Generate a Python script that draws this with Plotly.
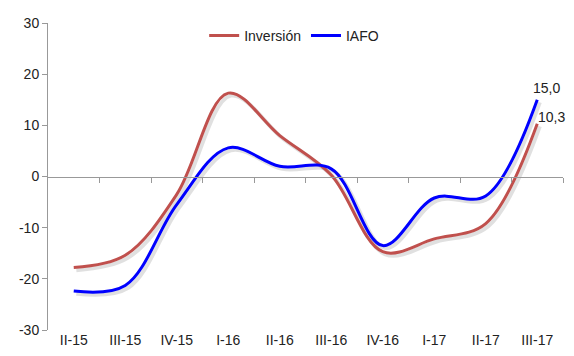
import plotly.graph_objects as go

categories = ["II-15", "III-15", "IV-15", "I-16", "II-16", "III-16", "IV-16", "I-17", "II-17", "III-17"]
inversion = [-17.8, -15.4, -3.5, 16.3, 8.0, 0.3, -14.7, -12.2, -9.2, 10.3]
iafo = [-22.4, -21.3, -5.5, 5.6, 2.0, 1.5, -13.5, -4.2, -3.8, 15.0]
y_ticks = [-30, -20, -10, 0, 10, 20, 30]
y_ticktext = ["-30", "-20", "-10", "0", "10", "20", "30"]

xs = list(range(len(categories)))
font = dict(family="Liberation Sans, Arial, sans-serif", size=14, color="#222222")
xr = [-0.5, len(categories) - 0.5]
yr = [-30, 30]
dx, dy = 0.05, 0.5

fig = go.Figure()
for xa in ("x", "x2"):
    fig.add_trace(go.Scatter(x=[xr[0]], y=[0], mode="markers", marker=dict(opacity=0), xaxis=xa, yaxis="y",
                             showlegend=False, hoverinfo="skip"))
for vals in (inversion, iafo):
    fig.add_trace(go.Scatter(x=xs, y=vals, mode="lines", line=dict(color="rgba(0,0,0,0.12)", width=4, shape="spline", smoothing=1),
                             xaxis="x3", yaxis="y3", showlegend=False, hoverinfo="skip"))
fig.add_trace(go.Scatter(x=xs, y=inversion, mode="lines", name="Inversión",
                         line=dict(color="#C0504D", width=3, shape="spline", smoothing=1), xaxis="x4", yaxis="y4"))
fig.add_trace(go.Scatter(x=xs, y=iafo, mode="lines", name="IAFO",
                         line=dict(color="#0000FF", width=3, shape="spline", smoothing=1), xaxis="x4", yaxis="y4"))

fig.update_layout(
    width=566, height=348, margin=dict(l=40, r=11, t=15, b=26),
    paper_bgcolor="white", plot_bgcolor="white", font=font,
    xaxis=dict(range=xr, tickvals=xs, ticktext=categories, showline=False, showgrid=False, zeroline=False,
               ticks="", automargin=False),
    yaxis=dict(range=yr, tickvals=y_ticks, ticktext=y_ticktext, showline=True, linecolor="#999999", linewidth=1,
               ticks="outside", ticklen=5, tickcolor="#999999", showgrid=False, zeroline=False, automargin=False),
    xaxis2=dict(overlaying="x", anchor="free", position=0.5, range=xr,
                tickvals=[i + 0.5 for i in xs], showticklabels=False, ticks="outside", ticklen=5,
                tickcolor="#999999", showline=True, linecolor="#999999", linewidth=1, showgrid=False,
                zeroline=False, automargin=False),
    xaxis3=dict(overlaying="x", range=[xr[0] - dx, xr[1] - dx], visible=False),
    yaxis3=dict(overlaying="y", range=[yr[0] + dy, yr[1] + dy], visible=False),
    xaxis4=dict(overlaying="x", range=xr, visible=False),
    yaxis4=dict(overlaying="y", range=yr, visible=False),
    legend=dict(orientation="h", x=0.478, xanchor="center", y=0.958, yanchor="middle",
                bgcolor="rgba(0,0,0,0)", font=font, itemwidth=30),
    showlegend=True,
)

fig.add_annotation(x=xs[-1], y=iafo[-1], xref="x4", yref="y4", text="15,0", showarrow=False, xshift=9, yshift=12, font=font)
fig.add_annotation(x=xs[-1], y=inversion[-1], xref="x4", yref="y4", text="10,3", showarrow=False, xshift=14, yshift=7, font=font)

fig.write_html("out.html")
